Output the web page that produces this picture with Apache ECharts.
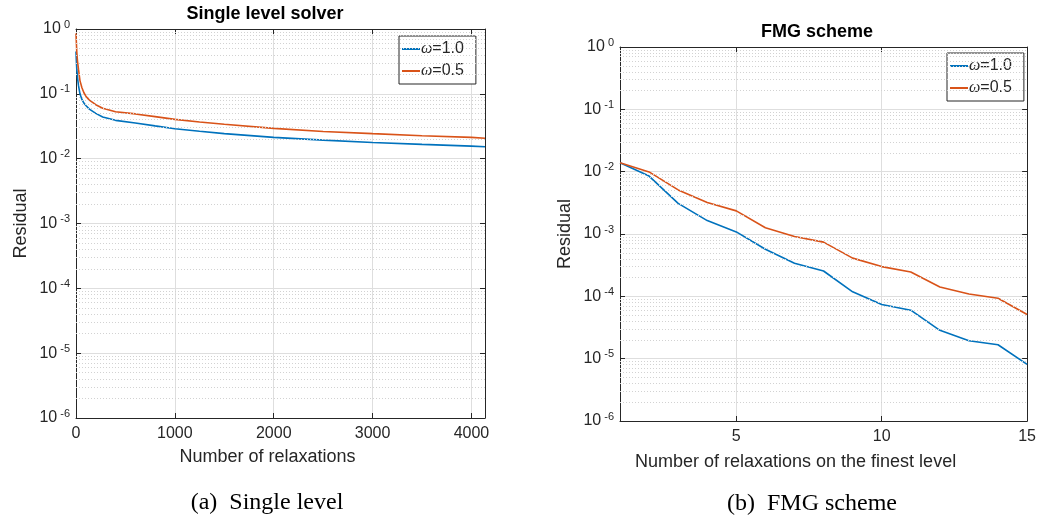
<!DOCTYPE html>
<html>
<head>
<meta charset="utf-8">
<script src="https://cdn.jsdelivr.net/npm/echarts@6/dist/echarts.min.js"></script>
<style>
  html, body { margin: 0; padding: 0; background: #fff; }
  #main { width: 1039px; height: 521px; }
</style>
</head>
<body>
<div id="main"></div>
<script>
// single level solver, residual vs. number of relaxations
var singleIters = [0, 3, 8, 15, 25, 40, 60, 80, 100, 135, 200, 270, 400, 600, 800, 1000, 1250, 1500, 2000, 2500, 3000, 3500, 4000, 4137];
var singleW10 = [0.45, 0.34, 0.24, 0.18, 0.135, 0.100, 0.082, 0.072, 0.066, 0.058, 0.050, 0.044, 0.039, 0.0355, 0.032, 0.029, 0.0265, 0.0243, 0.0213, 0.0193, 0.0178, 0.0166, 0.0156, 0.0153];
var singleW05 = [0.85, 0.66, 0.44, 0.32, 0.24, 0.160, 0.124, 0.104, 0.092, 0.080, 0.068, 0.060, 0.053, 0.049, 0.0445, 0.0404, 0.0368, 0.034, 0.0293, 0.0263, 0.0243, 0.0226, 0.0213, 0.0207];

// FMG scheme, residual vs. relaxations on the finest level
var fmgIters = [1, 2, 3, 4, 5, 6, 7, 8, 9, 10, 11, 12, 13, 14, 15];
var fmgW10 = [1.39e-2, 8.5e-3, 3.1e-3, 1.64e-3, 1.08e-3, 5.7e-4, 3.4e-4, 2.55e-4, 1.18e-4, 7.4e-5, 6.0e-5, 2.85e-5, 1.94e-5, 1.67e-5, 8.1e-6];
var fmgW05 = [1.39e-2, 9.9e-3, 5.1e-3, 3.2e-3, 2.35e-3, 1.26e-3, 9.1e-4, 7.4e-4, 4.1e-4, 3.0e-4, 2.45e-4, 1.41e-4, 1.09e-4, 9.3e-5, 5.1e-5];

var fmgTicks = [5, 10, 15];
var omegaNames = ['ω=1.0', 'ω=0.5'];

var BLUE = '#0072BD', ORANGE = '#D95319', AX = '#262626';
var FONT = '"Liberation Sans", Arial, Helvetica, sans-serif';

// dotted minor grid at 2..9 x 10^d
var minorVals = [];
for (var d = -6; d < 0; d++) {
    for (var k = 2; k <= 9; k++) minorVals.push({ yAxis: k * Math.pow(10, d) });
}

function zip(xs, ys) {
    return xs.map(function (x, i) { return [x, ys[i]]; });
}

function logLabel(v) {
    var e = Math.round(Math.log10(v));
    return '{b|10}{e|' + e + '}';
}

var myChart = echarts.init(document.getElementById('main'));

function xAxisCfg(grid, min, max, name, top, extra) {
    var a = {
        type: 'value', gridIndex: grid, min: min, max: max,
        position: top ? 'top' : 'bottom',
        axisLine: { show: true, onZero: false, lineStyle: { color: AX, width: 1 } },
        axisTick: { show: true, inside: true, length: 5, lineStyle: { color: AX } },
        axisLabel: {
            show: !top, color: AX, fontSize: 16, fontFamily: FONT, margin: 8,
            showMaxLabel: false, formatter: function (v) { return String(v); }
        },
        splitLine: { show: !top, lineStyle: { color: '#dedede', width: 1 } }
    };
    if (!top) {
        a.name = name;
        a.nameLocation = 'middle';
        a.nameGap = 30;
        a.nameTextStyle = { color: AX, fontSize: 18, fontFamily: FONT };
    }
    for (var key in extra) a[key] = extra[key];
    return a;
}

function yAxisCfg(grid, right) {
    var a = {
        type: 'log', logBase: 10, gridIndex: grid, min: 1e-6, max: 1,
        position: right ? 'right' : 'left',
        axisLine: { show: true, onZero: false, lineStyle: { color: AX, width: 1 } },
        axisTick: { show: true, inside: true, length: 5, lineStyle: { color: AX } },
        axisLabel: {
            show: !right, formatter: logLabel, margin: 6,
            rich: {
                b: { fontSize: 16, color: AX, fontFamily: FONT, lineHeight: 20 },
                e: { fontSize: 11, color: AX, fontFamily: FONT, verticalAlign: 'top', lineHeight: 11, padding: [0, 0, 0, 3] }
            }
        },
        splitLine: { show: !right, lineStyle: { color: '#dedede', width: 1 } }
    };
    if (!right) {
        a.name = 'Residual';
        a.nameLocation = 'middle';
        a.nameGap = 46;
        a.nameTextStyle = { color: AX, fontSize: 18, fontFamily: FONT };
    }
    return a;
}

function legendCfg(left, top) {
    return {
        left: left, top: top, orient: 'vertical',
        data: [
            { name: omegaNames[0], icon: 'rect', itemStyle: { color: BLUE, borderWidth: 0 } },
            { name: omegaNames[1], icon: 'rect', itemStyle: { color: ORANGE, borderWidth: 0 } }
        ],
        itemWidth: 18, itemHeight: 2, itemGap: 6,
        lineStyle: { type: 'solid' },
        backgroundColor: '#fff', borderColor: AX, borderWidth: 1,
        padding: [5, 12, 5, 3],
        formatter: function (n) { return '{w|ω}' + n.slice(1); },
        textStyle: {
            color: AX, fontSize: 16, fontFamily: FONT, padding: [0, 0, 0, -4],
            rich: { w: { fontStyle: 'italic', fontSize: 16, fontFamily: '"Liberation Serif", serif', color: AX } }
        }
    };
}

function lineSeries(name, color, x, y, data) {
    return {
        name: name, type: 'line', xAxisIndex: x, yAxisIndex: y, z: 3,
        data: data, showSymbol: false, symbol: 'none',
        lineStyle: { color: color, width: 1.6, type: 'solid' }, itemStyle: { color: color },
        animation: false
    };
}

function minorGrid(x, y) {
    return {
        type: 'line', xAxisIndex: x, yAxisIndex: y, z: 1, data: [], silent: true,
        markLine: {
            silent: true, symbol: 'none', animation: false, precision: 12,
            label: { show: false },
            lineStyle: { color: '#d2d2d2', width: 1, type: [1, 2] },
            data: minorVals
        }
    };
}

var option = {
    backgroundColor: '#fff',
    grid: [
        { left: 76, top: 29, width: 409, height: 389 },
        { left: 620, top: 47, width: 411, height: 374 }
    ],
    xAxis: [
        xAxisCfg(0, 0, 4137, 'Number of relaxations', false, { interval: 1000, nameTextStyle: { color: AX, fontSize: 18, fontFamily: FONT, padding: [0, 26, 0, 0] } }),
        xAxisCfg(1, 1, 15, 'Number of relaxations on the finest level', false, {
            axisTick: { show: true, inside: true, length: 5, lineStyle: { color: AX }, customValues: fmgTicks },
            axisLabel: { color: AX, fontSize: 16, fontFamily: FONT, margin: 8, customValues: fmgTicks },
            nameGap: 32,
            nameTextStyle: { color: AX, fontSize: 18, fontFamily: FONT, padding: [0, 56, 0, 0] }
        }),
        xAxisCfg(0, 0, 4137, '', true, { interval: 1000 }),
        xAxisCfg(1, 1, 15, '', true, { axisTick: { show: true, inside: true, length: 5, lineStyle: { color: AX }, customValues: fmgTicks } })
    ],
    yAxis: [yAxisCfg(0, false), yAxisCfg(1, false), yAxisCfg(0, true), yAxisCfg(1, true)],
    legend: [legendCfg(399, 36), legendCfg(947, 53)],
    series: [
        minorGrid(0, 0),
        minorGrid(1, 1),
        lineSeries(omegaNames[0], BLUE, 0, 0, zip(singleIters, singleW10)),
        lineSeries(omegaNames[1], ORANGE, 0, 0, zip(singleIters, singleW05)),
        lineSeries(omegaNames[0], BLUE, 1, 1, zip(fmgIters, fmgW10)),
        lineSeries(omegaNames[1], ORANGE, 1, 1, zip(fmgIters, fmgW05))
    ],
    graphic: [
        { type: 'text', x: 265, y: 14, style: { text: 'Single level solver', fill: '#000', font: 'bold 18px ' + FONT, textAlign: 'center', textVerticalAlign: 'middle' } },
        { type: 'text', x: 817, y: 32, style: { text: 'FMG scheme', fill: '#000', font: 'bold 18px ' + FONT, textAlign: 'center', textVerticalAlign: 'middle' } },
        { type: 'text', x: 267, y: 503, style: { text: '(a)  Single level', fill: '#000', font: '24px "Liberation Serif", "Times New Roman", serif', textAlign: 'center', textVerticalAlign: 'middle' } },
        { type: 'text', x: 812, y: 504, style: { text: '(b)  FMG scheme', fill: '#000', font: '24px "Liberation Serif", "Times New Roman", serif', textAlign: 'center', textVerticalAlign: 'middle' } }
    ]
};
myChart.setOption(option);
</script>
</body>
</html>
